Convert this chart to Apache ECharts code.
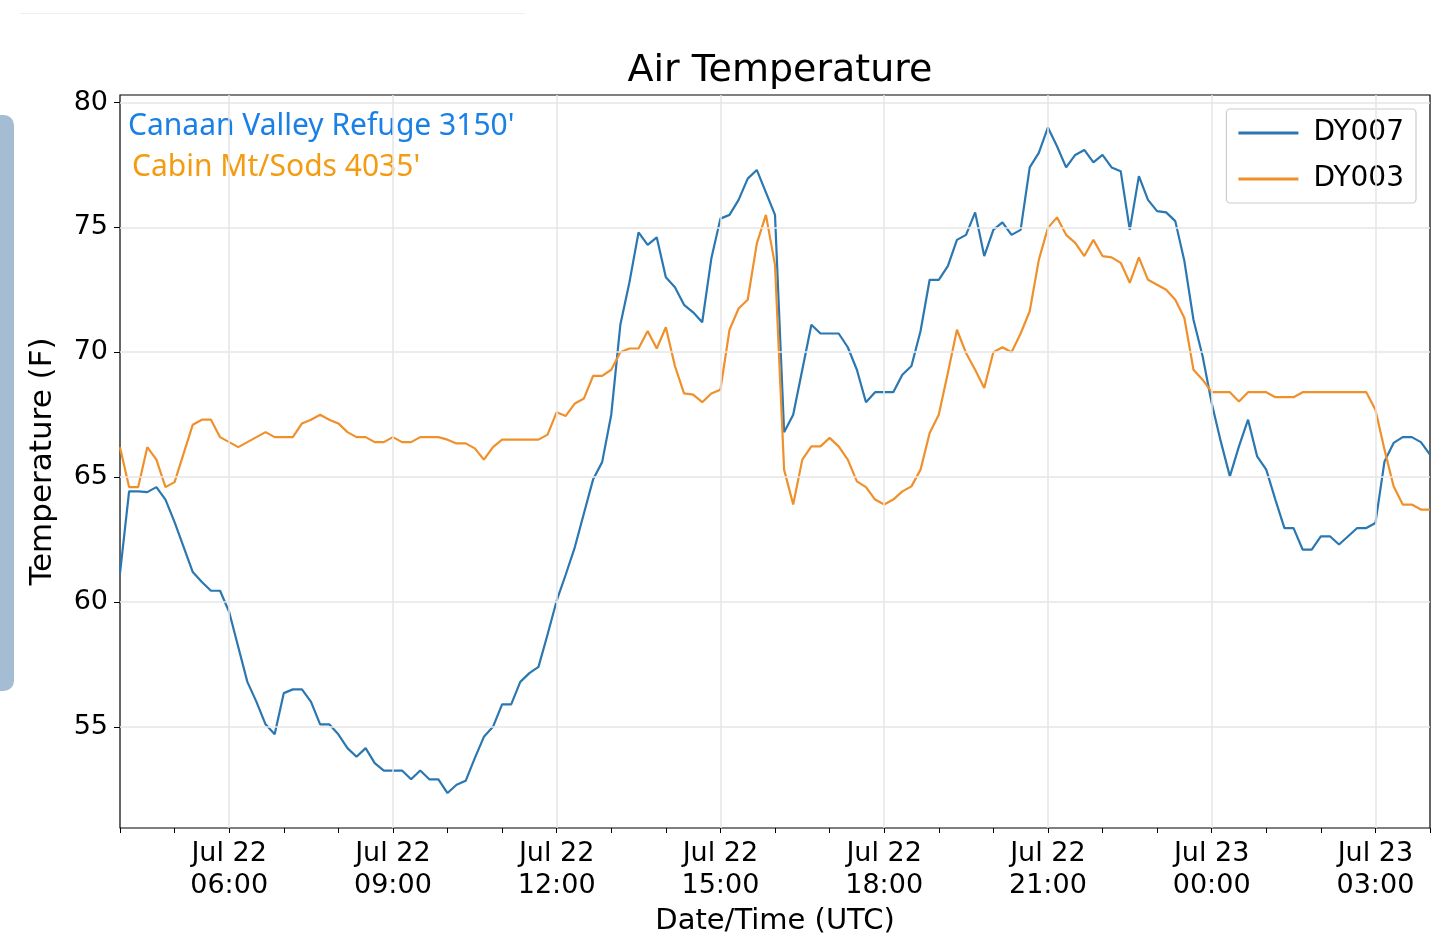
<!DOCTYPE html>
<html>
<head>
<meta charset="utf-8">
<script src="https://cdn.jsdelivr.net/npm/echarts@6/dist/echarts.min.js"></script>
<style>
    html, body { margin: 0; padding: 0; background: #fff; }
    #chart { width: 1440px; height: 944px; }
</style>
</head>
<body>
<div id="chart"></div>
<script>
// 数据：从 Jul 22 04:00 UTC 起，每 10 分钟一个点
const startLabel = 'Jul 22 04:00'
const stepMinutes = 10

const dy007 = [
    61.15, 64.43, 64.43, 64.4, 64.6, 64.1, 63.2, 62.2, 61.2, 60.8,
    60.45, 60.45, 59.6, 58.2, 56.8, 56.0, 55.1, 54.7, 56.35, 56.5,
    56.5, 56.0, 55.1, 55.1, 54.7, 54.15, 53.8, 54.15, 53.55, 53.25,
    53.25, 53.25, 52.9, 53.25, 52.9, 52.9, 52.35, 52.68, 52.84, 53.75,
    54.6, 55.0, 55.9, 55.9, 56.8, 57.15, 57.4, 58.7, 60.05, 61.1,
    62.2, 63.55, 64.9, 65.6, 67.5, 71.1, 72.8, 74.8, 74.3, 74.6,
    73.0, 72.6, 71.9, 71.6, 71.2, 73.75, 75.35, 75.5, 76.1, 76.95,
    77.3, 76.4, 75.5, 66.8, 67.5, 69.3, 71.1, 70.75, 70.75, 70.75,
    70.2, 69.3, 68.0, 68.4, 68.4, 68.4, 69.1, 69.45, 70.85, 72.9,
    72.9, 73.45, 74.5, 74.7, 75.6, 73.85, 74.9, 75.2, 74.7, 74.9,
    77.4, 77.98, 79.0, 78.25, 77.4, 77.9, 78.1, 77.6, 77.9, 77.4,
    77.25, 74.9, 77.05, 76.1, 75.65, 75.6, 75.25, 73.65, 71.3, 69.85,
    67.97, 66.43, 65.03, 66.23, 67.3, 65.83, 65.3, 64.1, 62.96, 62.96,
    62.1, 62.1, 62.63, 62.63, 62.3, 62.63, 62.96, 62.96, 63.16, 65.63,
    66.37, 66.6, 66.6, 66.4, 65.9
]

const dy003 = [
    66.2, 64.6, 64.6, 66.2, 65.7, 64.6, 64.8, 65.95, 67.1, 67.3,
    67.3, 66.6, 66.4, 66.2, 66.4, 66.6, 66.8, 66.6, 66.6, 66.6,
    67.15, 67.3, 67.5, 67.3, 67.15, 66.8, 66.6, 66.6, 66.4, 66.4,
    66.6, 66.4, 66.4, 66.6, 66.6, 66.6, 66.5, 66.35, 66.35, 66.15,
    65.7, 66.2, 66.5, 66.5, 66.5, 66.5, 66.5, 66.7, 67.6, 67.45,
    67.95, 68.15, 69.05, 69.05, 69.3, 70.0, 70.15, 70.15, 70.85, 70.15,
    71.0, 69.45, 68.35, 68.3, 68.0, 68.35, 68.5, 70.9, 71.75, 72.1,
    74.35, 75.5, 73.5, 65.3, 63.9, 65.7, 66.23, 66.23, 66.57, 66.23,
    65.7, 64.83, 64.6, 64.1, 63.9, 64.1, 64.43, 64.63, 65.3, 66.77,
    67.5, 69.17, 70.9, 69.97, 69.3, 68.57, 70.0, 70.2, 70.0, 70.75,
    71.64, 73.7, 74.98, 75.4, 74.7, 74.38, 73.85, 74.5, 73.85, 73.8,
    73.58, 72.78, 73.8, 72.9, 72.7, 72.5, 72.1, 71.37, 69.3, 68.9,
    68.4, 68.4, 68.4, 68.03, 68.4, 68.4, 68.4, 68.2, 68.2, 68.2,
    68.4, 68.4, 68.4, 68.4, 68.4, 68.4, 68.4, 68.4, 67.7, 66.1,
    64.63, 63.9, 63.9, 63.7, 63.7
]

// 刻度（距 04:00 的分钟数）
const xTickMinutes = [120, 300, 480, 660, 840, 1020, 1200, 1380]
const xTickLabels = ['Jul 22\n06:00', 'Jul 22\n09:00', 'Jul 22\n12:00', 'Jul 22\n15:00',
    'Jul 22\n18:00', 'Jul 22\n21:00', 'Jul 23\n00:00', 'Jul 23\n03:00']
const yTicks = [55, 60, 65, 70, 75, 80]

function toPoints(values) {
    return values.map((v, i) => [i * stepMinutes, v])
}

let hourTicks = []
for (let m = 0; m <= 1440; m += 60) hourTicks.push(m)

const gridLine = { color: '#e6e6e6', width: 1.5, type: 'solid' }
const font = 'DejaVu Sans'

var myChart = echarts.init(document.getElementById('chart'))

var option = {
    animation: false,
    textStyle: { fontFamily: font },
    title: {
        text: 'Air Temperature',
        left: 775,
        textAlign: 'center',
        top: 47,
        textStyle: { fontSize: 38, fontWeight: 'normal', color: '#000', fontFamily: font }
    },
    grid: {
        left: 120, right: 10, top: 95, bottom: 116,
        show: true, borderColor: '#000', borderWidth: 1.2, backgroundColor: 'transparent'
    },
    legend: {
        orient: 'vertical',
        right: 24, top: 109,
        itemWidth: 60, itemHeight: 3, itemGap: 18,
        icon: 'rect',
        padding: [10, 12, 10, 12],
        borderColor: '#ccc', borderWidth: 1.2, borderRadius: 4,
        textStyle: { fontSize: 28, color: '#000', fontFamily: font, padding: [0, 0, 0, 10] },
        data: ['DY007', 'DY003']
    },
    xAxis: {
        type: 'value',
        min: 0, max: 1440,
        name: 'Date/Time (UTC)',
        nameLocation: 'middle',
        nameGap: 76,
        nameTextStyle: { fontSize: 29, color: '#000', fontFamily: font },
        axisLine: { show: false },
        splitLine: { show: false },
        axisTick: { show: true, customValues: hourTicks, length: 5, lineStyle: { color: '#000' } },
        axisLabel: {
            customValues: xTickMinutes,
            formatter: (v) => xTickLabels[xTickMinutes.indexOf(v)] || '',
            fontSize: 27, color: '#000', lineHeight: 32, margin: 10, fontFamily: font
        }
    },
    yAxis: {
        type: 'value',
        min: 50.95, max: 80.3,
        name: 'Temperature (F)',
        nameLocation: 'middle',
        nameGap: 62,
        nameTextStyle: { fontSize: 31, color: '#000', fontFamily: font },
        axisLine: { show: false },
        splitLine: { show: false },
        axisTick: { show: true, customValues: yTicks, length: 6, lineStyle: { color: '#000' } },
        axisLabel: { customValues: yTicks, fontSize: 27, color: '#000', margin: 12, fontFamily: font }
    },
    graphic: [
        {
            type: 'rect', left: -12, top: 115,
            shape: { width: 26, height: 576, r: 10 },
            style: { fill: '#a4bdd3' }
        },
        {
            type: 'rect', left: 20, top: 13,
            shape: { width: 505, height: 1 },
            style: { fill: '#eeeeee' }
        },
        {
            type: 'text', left: 128, top: 111,
            style: { text: "Canaan Valley Refuge 3150'", fill: '#1a80e6', font: '30px "Noto Sans"' }
        },
        {
            type: 'text', left: 132, top: 152,
            style: { text: "Cabin Mt/Sods 4035'", fill: '#f39c12', font: '30px "Noto Sans"' }
        }
    ],
    series: [
        {
            name: 'DY007',
            type: 'line',
            data: toPoints(dy007),
            showSymbol: false,
            color: '#2a77b1',
            lineStyle: { width: 2.2, color: '#2a77b1' },
            z: 3,
            markLine: {
                silent: true,
                symbol: 'none',
                label: { show: false },
                lineStyle: gridLine,
                data: yTicks.map(v => ({ yAxis: v })).concat(xTickMinutes.map(m => ({ xAxis: m })))
            }
        },
        {
            name: 'DY003',
            type: 'line',
            data: toPoints(dy003),
            showSymbol: false,
            color: '#f0902b',
            lineStyle: { width: 2.2, color: '#f0902b' },
            z: 3
        }
    ]
}

myChart.setOption(option)
</script>
</body>
</html>
